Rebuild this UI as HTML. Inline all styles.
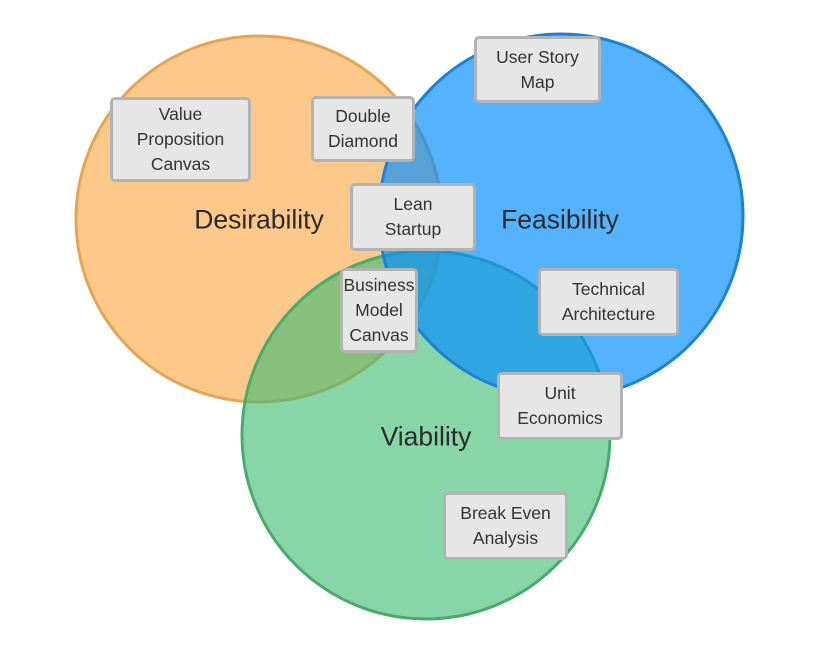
<!DOCTYPE html>
<html><head><style>
body{margin:0;background:#fff;width:820px;height:656px;overflow:hidden;position:relative;font-family:"Liberation Sans",sans-serif}
svg{position:absolute;left:0;top:0}
.b{position:absolute;box-sizing:border-box;background:#e6e6e6;border:3px solid #b3b3b3;border-radius:5px;display:flex;align-items:center;justify-content:center;text-align:center;font-size:17.5px;line-height:25px;color:#333;white-space:nowrap}
.l{position:absolute;font-size:26.5px;color:#2b2b2b;transform:translate(-50%,-50%);white-space:nowrap}
</style></head><body>
<svg width="820" height="656">
<circle cx="259" cy="219" r="183" fill="#fdc98a" stroke="#e4a654" stroke-width="3"/>
<circle cx="426" cy="435" r="184" fill="rgb(63,187,115)" fill-opacity="0.62" stroke="#4aab6c" stroke-width="3"/>
<circle cx="561" cy="216" r="182" fill="rgb(4,142,254)" fill-opacity="0.68" stroke="#1b82d8" stroke-width="3"/>
</svg>
<div class="l" style="left:259px;top:220px">Desirability</div>
<div class="l" style="left:560px;top:220px">Feasibility</div>
<div class="l" style="left:426px;top:437px">Viability</div>
<div class="b" style="left:110px;top:97px;width:141px;height:85px">Value<br>Proposition<br>Canvas</div>
<div class="b" style="left:311px;top:96px;width:104px;height:66px">Double<br>Diamond</div>
<div class="b" style="left:474px;top:36px;width:127px;height:67px">User Story<br>Map</div>
<div class="b" style="left:350px;top:183px;width:126px;height:68px">Lean<br>Startup</div>
<div class="b" style="left:340px;top:268px;width:78px;height:85px">Business<br>Model<br>Canvas</div>
<div class="b" style="left:538px;top:268px;width:141px;height:68px">Technical<br>Architecture</div>
<div class="b" style="left:497px;top:372px;width:126px;height:68px">Unit<br>Economics</div>
<div class="b" style="left:443px;top:492px;width:125px;height:68px">Break Even<br>Analysis</div>
</body></html>
